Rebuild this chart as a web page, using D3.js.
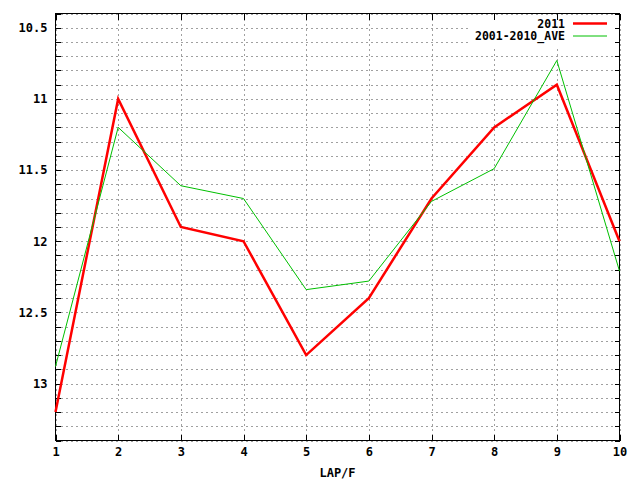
<!DOCTYPE html>
<html>
<head>
<meta charset="utf-8">
<script src="https://cdn.jsdelivr.net/npm/d3@7"></script>
<style>
  body { margin: 0; background: #fff; }
  svg { display: block; }
  .tick text { font-family: "DejaVu Sans Mono", monospace; font-weight: bold; font-size: 12px; fill: #000; }
  .grid line { stroke: #a0a0a0; stroke-dasharray: 2,3; shape-rendering: crispEdges; }
  .grid path { display: none; }
</style>
</head>
<body>
<svg id="chart" width="640" height="480"></svg>
<script>
// data
const laps = [1, 2, 3, 4, 5, 6, 7, 8, 9, 10];
const times2011 = [13.2, 11.0, 11.9, 12.0, 12.8, 12.4, 11.7, 11.2, 10.9, 12.0];
const timesAve = [12.88, 11.2, 11.61, 11.70, 12.34, 12.28, 11.72, 11.49, 10.73, 12.21];
const seriesNames = ["2011", "2001-2010_AVE"];
const yLabels = [10.5, 11, 11.5, 12, 12.5, 13];
const yMinorTicks = d3.range(104, 135).map(v => v / 10);
const xLabel = "LAP/F";

const svg = d3.select("#chart");
const plotLeft = 55.5, plotRight = 619.5, plotTop = 13.5, plotBottom = 440.5;

let x = d3.scaleLinear().domain([1, 10]).range([plotLeft, plotRight]);
let y = d3.scaleLinear().domain([10.4, 13.4]).range([plotTop, plotBottom]);

// grid
svg.append("g").attr("class", "grid")
    .attr("transform", `translate(${plotLeft},0)`)
    .call(d3.axisLeft(y).tickValues(yMinorTicks).tickSize(-(plotRight - plotLeft)).tickFormat(""));
svg.append("g").attr("class", "grid")
    .attr("transform", `translate(0,${plotBottom})`)
    .call(d3.axisBottom(x).tickValues(laps).tickSize(-(plotBottom - plotTop)).tickFormat(""));

// legend background hides the grid under it
svg.append("rect").attr("x", 470).attr("y", 15).attr("width", 148).attr("height", 31).attr("fill", "#fff");

// ticks on all four sides, pointing inward
let styleAxis = (g) => {
    g.select(".domain").remove();
    g.selectAll("line").attr("stroke", "#000").attr("shape-rendering", "crispEdges");
};
svg.append("g").attr("transform", `translate(${plotLeft},0)`)
    .call(d3.axisLeft(y).tickValues(yMinorTicks).tickSize(-5).tickFormat("")).call(styleAxis);
svg.append("g").attr("transform", `translate(${plotLeft},0)`)
    .call(d3.axisLeft(y).tickValues(yLabels).tickSize(-5).tickPadding(8).tickFormat(d => String(d))).call(styleAxis);
svg.append("g").attr("transform", `translate(${plotRight},0)`)
    .call(d3.axisRight(y).tickValues(yMinorTicks).tickSize(-5).tickFormat("")).call(styleAxis);
svg.append("g").attr("transform", `translate(0,${plotBottom})`)
    .call(d3.axisBottom(x).tickValues(laps).tickSize(-6).tickPadding(7).tickFormat(d => String(d))).call(styleAxis);
svg.append("g").attr("transform", `translate(0,${plotTop})`)
    .call(d3.axisTop(x).tickValues(laps).tickSize(-6).tickFormat("")).call(styleAxis);

// border
svg.append("rect")
    .attr("x", plotLeft).attr("y", plotTop)
    .attr("width", plotRight - plotLeft).attr("height", plotBottom - plotTop)
    .attr("fill", "none").attr("stroke", "#000").attr("stroke-width", 1);

// lines
let line = (vals) => d3.line().x((d, i) => x(laps[i])).y(d => y(d))(vals);
svg.append("path").attr("d", line(times2011))
    .attr("fill", "none").attr("stroke", "#ff0000").attr("stroke-width", 2.5).attr("stroke-linejoin", "miter");
svg.append("path").attr("d", line(timesAve))
    .attr("fill", "none").attr("stroke", "#00c000").attr("stroke-width", 1);

// legend
const colors = ["#ff0000", "#00c000"];
const widths = [2.5, 1];
let legend = svg.append("g");
seriesNames.forEach((name, i) => {
    let ly = 23.5 + i * 12.5;
    legend.append("text")
        .attr("x", 565).attr("y", ly).attr("dy", "0.35em")
        .attr("text-anchor", "end")
        .style("font-family", "'DejaVu Sans Mono', monospace")
        .style("font-weight", "bold").style("font-size", "11.5px")
        .text(name);
    legend.append("line")
        .attr("x1", 573).attr("x2", 607).attr("y1", ly).attr("y2", ly)
        .attr("stroke", colors[i]).attr("stroke-width", widths[i]);
});

// x axis title
svg.append("text")
    .attr("x", (plotLeft + plotRight) / 2).attr("y", 477)
    .attr("text-anchor", "middle")
    .style("font-family", "'DejaVu Sans Mono', monospace")
    .style("font-weight", "bold").style("font-size", "12px")
    .text(xLabel);
</script>
</body>
</html>
